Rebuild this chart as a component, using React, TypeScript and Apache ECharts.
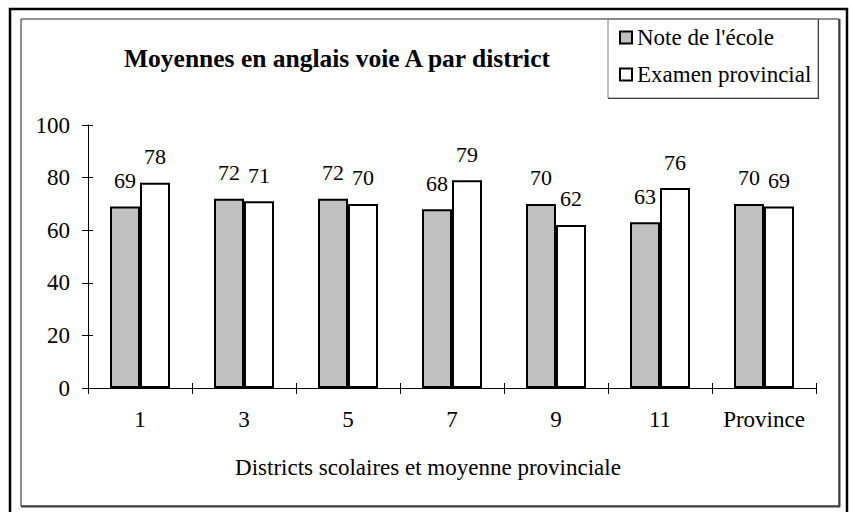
import { useEffect, useRef } from "react";
import * as echarts from "echarts";

const categories = ["1", "3", "5", "7", "9", "11", "Province"];
const schoolMarks = [69, 72, 72, 68, 70, 63, 70];
const provincialExam = [78, 71, 70, 79, 62, 76, 69];
const seriesNames = ["Note de l'école", "Examen provincial"];
const titleText = "Moyennes en anglais voie A par district";
const xAxisTitle = "Districts scolaires et moyenne provinciale";
const yMin = 0;
const yMax = 100;
const yInterval = 20;

const FONT = "Liberation Serif, Times New Roman, serif";

export default function App() {
  const ref = useRef<HTMLDivElement>(null);

  useEffect(() => {
    if (!ref.current) return;
    const chart = echarts.init(ref.current, undefined, { renderer: "svg" });
    const labelStyle = {
      show: true,
      position: "top" as const,
      distance: 15,
      fontSize: 22,
      fontFamily: FONT,
      color: "#000",
    };
    chart.setOption({
      animation: false,
      backgroundColor: "#fff",
      textStyle: { fontFamily: FONT },
      grid: { left: 88, right: 35, top: 125, bottom: 124, containLabel: false },
      legend: {
        orient: "vertical",
        left: 619,
        top: 26,
        padding: 0,
        itemWidth: 12,
        itemHeight: 12,
        itemGap: 14,
        icon: "rect",
        textStyle: { fontSize: 23, fontFamily: FONT, color: "#000" },
        data: seriesNames,
      },
      xAxis: [
        {
          type: "category",
          data: categories,
          position: "bottom",
          axisLine: { show: true, lineStyle: { color: "#000", width: 1 } },
          axisTick: { show: true, interval: 0, length: 6, lineStyle: { color: "#000" } },
          axisLabel: {
            interval: 0,
            hideOverlap: false,
            fontSize: 23,
            fontFamily: FONT,
            color: "#000",
            margin: 20,
          },
        },
        {
          type: "category",
          data: categories,
          position: "bottom",
          axisLine: { show: false },
          axisTick: { show: true, interval: 0, inside: true, length: 5, lineStyle: { color: "#000" } },
          axisLabel: { show: false, interval: 0 },
        },
      ],
      yAxis: [
        {
          type: "value",
          min: yMin,
          max: yMax,
          interval: yInterval,
          position: "left",
          axisLine: { show: true, lineStyle: { color: "#000", width: 1 } },
          axisTick: { show: true, length: 6, lineStyle: { color: "#000" } },
          splitLine: { show: false },
          axisLabel: { fontSize: 23, fontFamily: FONT, color: "#000", margin: 18 },
        },
        {
          type: "value",
          min: yMin,
          max: yMax,
          interval: yInterval,
          position: "left",
          axisLine: { show: false },
          axisTick: { show: true, inside: true, length: 5, lineStyle: { color: "#000" } },
          splitLine: { show: false },
          axisLabel: { show: false },
        },
      ],
      series: [
        {
          name: seriesNames[0],
          type: "bar",
          data: schoolMarks,
          xAxisIndex: 0,
          yAxisIndex: 0,
          barWidth: 30,
          barGap: "0%",
          itemStyle: { color: "#C0C0C0", borderColor: "#000", borderWidth: 2 },
          label: labelStyle,
        },
        {
          name: seriesNames[1],
          type: "bar",
          data: provincialExam,
          xAxisIndex: 0,
          yAxisIndex: 0,
          barWidth: 30,
          barGap: "0%",
          itemStyle: { color: "#FFFFFF", borderColor: "#000", borderWidth: 2 },
          label: labelStyle,
        },
      ],
      graphic: [
        {
          type: "rect",
          shape: { x: 10, y: 9, width: 837, height: 520 },
          style: { fill: "none", stroke: "#000", lineWidth: 2.5 },
          silent: true,
        },
        {
          type: "rect",
          shape: { x: 21, y: 19, width: 818, height: 487 },
          style: { fill: "none", stroke: "#222", lineWidth: 1 },
          silent: true,
        },
        {
          type: "line",
          shape: { x1: 839.5, y1: 19, x2: 839.5, y2: 507 },
          style: { stroke: "#404040", lineWidth: 2 },
          silent: true,
        },
        {
          type: "line",
          shape: { x1: 21, y1: 506.5, x2: 840, y2: 506.5 },
          style: { stroke: "#404040", lineWidth: 2 },
          silent: true,
        },
        {
          type: "rect",
          shape: { x: 608, y: 19, width: 210, height: 79 },
          style: { fill: "none", stroke: "#808080", lineWidth: 1 },
          silent: true,
        },
        {
          type: "line",
          shape: { x1: 818.5, y1: 19, x2: 818.5, y2: 99 },
          style: { stroke: "#404040", lineWidth: 1 },
          silent: true,
        },
        {
          type: "line",
          shape: { x1: 608, y1: 98.5, x2: 819, y2: 98.5 },
          style: { stroke: "#404040", lineWidth: 1 },
          silent: true,
        },
        {
          type: "text",
          x: 337,
          y: 58,
          style: {
            text: titleText,
            fontSize: 25.5,
            fontWeight: "bold",
            fontFamily: FONT,
            fill: "#000",
            textAlign: "center",
            textVerticalAlign: "middle",
          },
          silent: true,
        },
        {
          type: "text",
          x: 428,
          y: 467,
          style: {
            text: xAxisTitle,
            fontSize: 23,
            fontFamily: FONT,
            fill: "#000",
            textAlign: "center",
            textVerticalAlign: "middle",
          },
          silent: true,
        },
      ],
    });
    return () => chart.dispose();
  }, []);

  return (
    <div
      ref={ref}
      style={{ position: "fixed", left: 0, top: 0, width: 851, height: 512 }}
    />
  );
}
